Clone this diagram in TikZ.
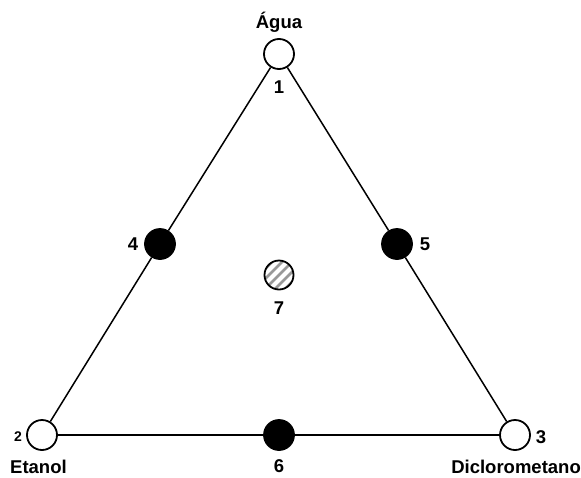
\documentclass[tikz,border=0pt]{standalone}
\usepackage{fontspec}
\setmainfont{Liberation Sans}
\begin{document}
\begin{tikzpicture}[x=1pt,y=-1pt,
  pure/.style={circle,draw=black,line width=1.8pt,fill=white,minimum size=30pt,inner sep=0pt},
  mix/.style={circle,draw=black,line width=1.8pt,fill=black,minimum size=30pt,inner sep=0pt},
  tern/.style={circle,draw=black,line width=1.8pt,fill=white,minimum size=29pt,inner sep=0pt,
    path picture={
      \foreach \d in {-20,-10,0,10,20}{
        \draw[gray!80,line width=2.6pt]
          ([xshift=\d pt-20pt,yshift=-20pt]path picture bounding box.center) -- ++(40pt,40pt);
      }}},
  lbl/.style={font=\fontsize{18.5}{18.5}\selectfont\bfseries,inner sep=0pt,anchor=base},
  edge/.style={line width=1.5pt}]
\useasboundingbox (0,0) rectangle (581,477);
\node[pure] (n1) at (279,54) {};
\node[pure] (n2) at (42,435) {};
\node[pure] (n3) at (515,435) {};
\node[mix] (n4) at (160,244) {};
\node[mix] (n5) at (397,244) {};
\node[mix] (n6) at (279,435) {};
\node[tern] (n7) at (279,275) {};
\draw[edge] (n1) -- (n4);
\draw[edge] (n4) -- (n2);
\draw[edge] (n1) -- (n5);
\draw[edge] (n5) -- (n3);
\draw[edge] (n2) -- (n6);
\draw[edge] (n6) -- (n3);
\node[lbl] (tagua) at (279,28) {Água};
\node[lbl] (t1) at (279,93) {1};
\node[lbl,font=\fontsize{14}{14}\selectfont\bfseries] (t2) at (18,441) {2};
\node[lbl] (t3) at (541,443) {3};
\node[lbl] (t4) at (133,250) {4};
\node[lbl] (t5) at (425,250) {5};
\node[lbl] (t6) at (279,472) {6};
\node[lbl] (t7) at (279,314) {7};
\node[lbl,anchor=base west] (tet) at (10,473) {Etanol};
\node[lbl,anchor=base east] (tdc) at (581,473) {Diclorometano};
\end{tikzpicture}
\end{document}
